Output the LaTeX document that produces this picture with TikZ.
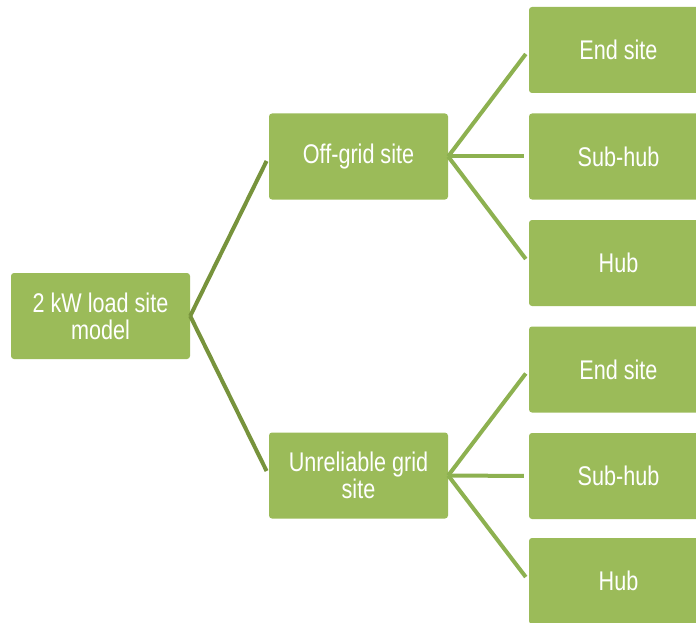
\documentclass[tikz,border=0pt]{standalone}
\usepackage{fontspec}
\setmainfont[FakeStretch=0.80]{Liberation Sans}
\usepackage{tikz}
\usepackage{xcolor}
\usetikzlibrary{calc,positioning}

\definecolor{boxgreen}{HTML}{9BBB59}
\definecolor{darklink}{HTML}{77933C}
\definecolor{lightlink}{HTML}{8DB150}

\begin{document}
\begin{tikzpicture}[x=1pt,y=-1pt,
  box/.style={fill=boxgreen, draw=none, rounded corners=3pt, minimum width=179pt,
    minimum height=86pt, text=white, align=center, inner sep=0pt,
    font=\fontsize{27}{27}\selectfont},
  rootlink/.style={darklink, line width=4pt, shorten >=5pt},
  leaflink/.style={lightlink, line width=4pt, shorten >=5pt}]
\useasboundingbox (0,0) rectangle (696,623);
% first and second level
\node[box] (root) at (100.5,316) {2 kW load site\\model};
\node[box] (offgrid) at (358.5,156.5) {Off-grid site};
\node[box] (unrel) at (358.5,475.5) {Unreliable grid\\site};
% leaves, off-grid
\node[box] (oend) at (618.5,50) {End site};
\node[box] (osub) at (618.5,156.5) {Sub-hub};
\node[box] (ohub) at (618.5,263) {Hub};
% leaves, unreliable grid
\node[box] (uend) at (618.5,369.5) {End site};
\node[box] (usub) at (618.5,476) {Sub-hub};
\node[box] (uhub) at (618.5,581) {Hub};
% links
\draw[rootlink] (root.east) -- (offgrid.west);
\draw[rootlink] (root.east) -- (unrel.west);
\foreach \leaf in {oend,osub,ohub}
  \draw[leaflink] (offgrid.east) -- (\leaf.west);
\foreach \leaf in {uend,usub,uhub}
  \draw[leaflink] (unrel.east) -- (\leaf.west);
\end{tikzpicture}
\end{document}
